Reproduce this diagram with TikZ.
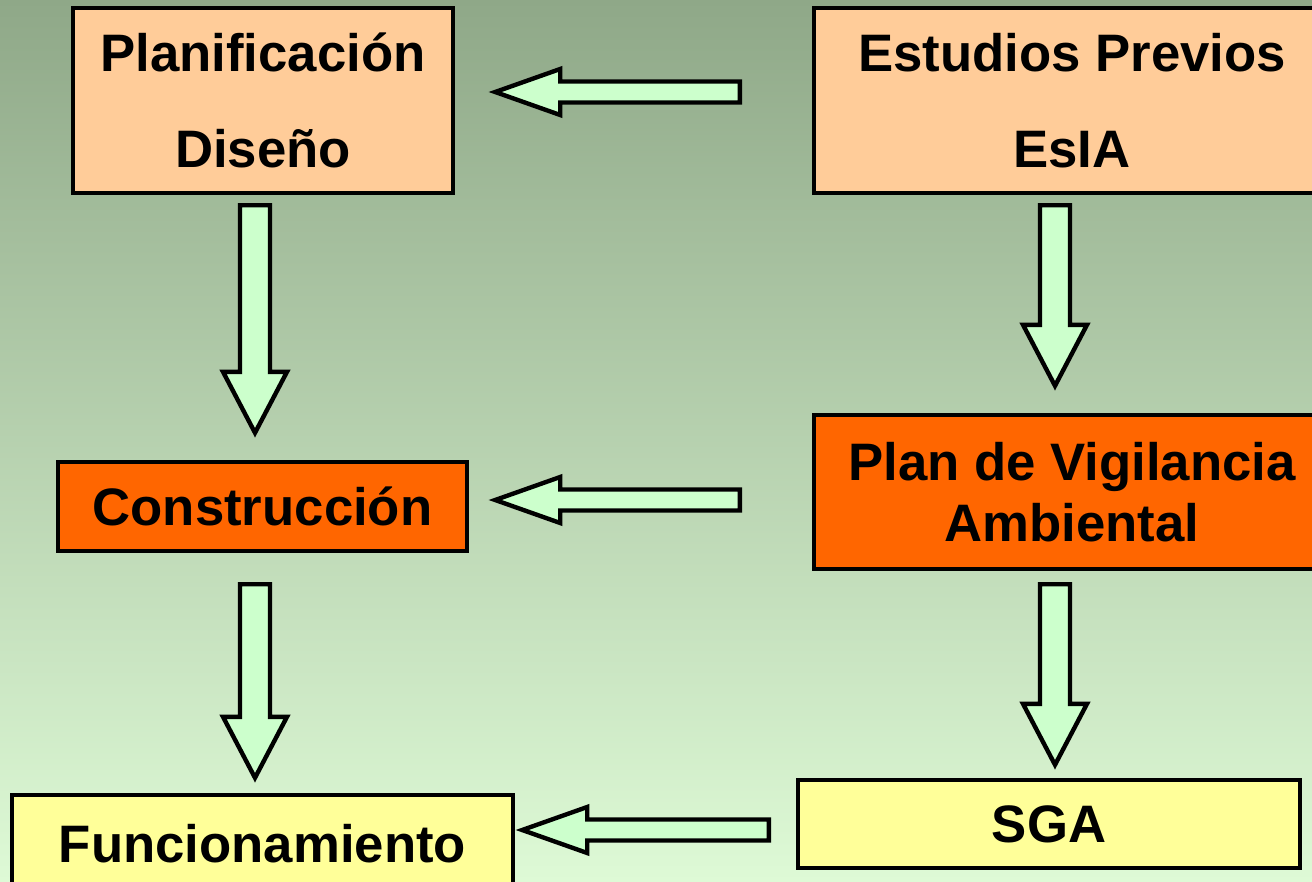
\documentclass[tikz,border=0pt]{standalone}
\usepackage{fontspec}
\setmainfont{Liberation Sans}
\usetikzlibrary{calc}
\definecolor{bgtop}{RGB}{143,168,136}
\definecolor{bgbot}{RGB}{222,250,214}
\definecolor{peach}{RGB}{255,204,153}
\definecolor{vigorange}{RGB}{255,102,0}
\definecolor{paleyellow}{RGB}{255,255,153}
\definecolor{mint}{RGB}{204,255,204}
% block arrows: tail (#1), tip (#2)
\newcommand{\leftblock}[2]{%
  \filldraw[blk] let \p1=(#1), \p2=(#2) in
    (\x1,\y1+0.21cm) -- (\x2+1.3cm,\y1+0.21cm) -- (\x2+1.3cm,\y1+0.46cm) -- (\x2,\y1)
    -- (\x2+1.3cm,\y1-0.46cm) -- (\x2+1.3cm,\y1-0.21cm) -- (\x1,\y1-0.21cm) -- cycle;}
\newcommand{\downblock}[2]{%
  \filldraw[blk] let \p1=(#1), \p2=(#2) in
    (\x1-0.3cm,\y1) -- (\x1+0.3cm,\y1) -- (\x1+0.3cm,\y2+1.22cm) -- (\x1+0.64cm,\y2+1.22cm) -- (\x1,\y2)
    -- (\x1-0.64cm,\y2+1.22cm) -- (\x1-0.3cm,\y2+1.22cm) -- cycle;}

\begin{document}
\begin{tikzpicture}[
   box/.style={draw=black,line width=2.5pt,align=center,font=\fontsize{30}{36}\selectfont\bfseries},
   blk/.style={fill=mint,draw=black,line width=2.5pt,line join=miter}]
   \useasboundingbox (0,0) rectangle (26.24,-17.64);
   \shade[top color=bgtop,bottom color=bgbot] (0,0) rectangle (26.24,-17.64);
   % left column
   \node[box,fill=peach,minimum width=7.6cm,minimum height=3.7cm,
         font=\fontsize{30}{55}\selectfont\bfseries] (plan) at (5.26,-2.01) {Planificación\\Diseño};
   \node[box,fill=vigorange,minimum width=8.18cm,minimum height=1.78cm] (cons) at (5.25,-10.13) {Construcción};
   \node[box,fill=paleyellow,minimum width=10.02cm,minimum height=1.94cm] (func) at (5.25,-16.87) {Funcionamiento};
   % right column
   \node[box,fill=peach,minimum width=10.32cm,minimum height=3.7cm,
         font=\fontsize{30}{55}\selectfont\bfseries] (est) at (21.44,-2.01) {Estudios Previos\\EsIA};
   \node[box,fill=vigorange,minimum width=10.32cm,minimum height=3.08cm,
         font=\fontsize{30}{35}\selectfont\bfseries] (pva) at (21.44,-9.84) {Plan de Vigilancia\\Ambiental};
   \node[box,fill=paleyellow,minimum width=10.04cm,minimum height=1.76cm] (sga) at (20.98,-16.48) {SGA};
   % arrows
   \coordinate (h1s) at ($(est.west)+(-1.44,0.17)$);
   \coordinate (h1e) at ($(plan.east)+(0.8,0.17)$);
   \coordinate (h2s) at ($(pva.west)+(-1.44,-0.16)$);
   \coordinate (h2e) at ($(cons.east)+(0.52,0.13)$);
   \coordinate (h3s) at ($(sga.west)+(-0.54,-0.12)$);
   \coordinate (h3e) at ($(func.east)+(0.14,0.25)$);
   \coordinate (v1s) at ($(plan.south)+(-0.16,-0.2)$);
   \coordinate (v1e) at ($(cons.north)+(-0.15,0.54)$);
   \coordinate (v2s) at ($(est.south)+(-0.34,-0.2)$);
   \coordinate (v2e) at ($(pva.north)+(-0.34,0.54)$);
   \coordinate (v3s) at ($(cons.south)+(-0.15,-0.62)$);
   \coordinate (v3e) at ($(func.north)+(-0.15,0.3)$);
   \coordinate (v4s) at ($(pva.south)+(-0.34,-0.26)$);
   \coordinate (v4e) at ($(sga.north)+(0.12,0.26)$);
   \leftblock{h1s}{h1e}
   \leftblock{h2s}{h2e}
   \leftblock{h3s}{h3e}
   \downblock{v1s}{v1e}
   \downblock{v2s}{v2e}
   \downblock{v3s}{v3e}
   \downblock{v4s}{v4e}
\end{tikzpicture}
\end{document}
